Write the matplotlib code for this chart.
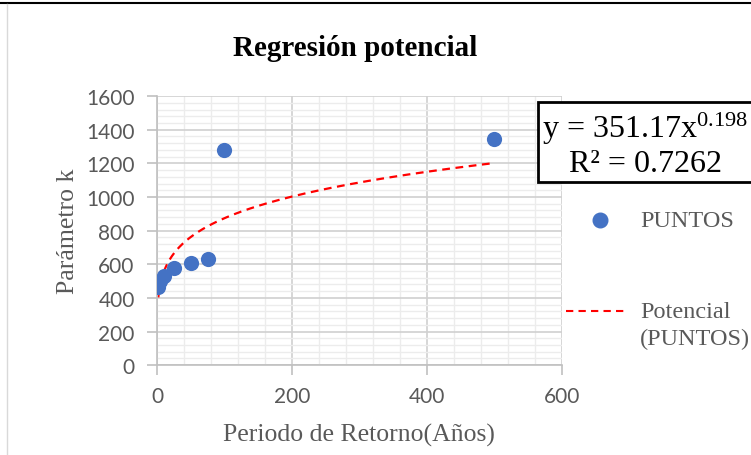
import matplotlib
matplotlib.use("Agg")
import matplotlib.pyplot as plt
import numpy as np
from matplotlib.lines import Line2D
from matplotlib.patches import Rectangle

# Return period (years) and fitted parameter k
periodo = [2, 5, 10, 25, 50, 75, 100, 500]
param_k = [465, 500, 530, 575, 605, 632, 1280, 1345]

# Power-law trendline coefficients
coef_a = 351.17
coef_b = 0.198
r2 = 0.7262

x_ticks = [0, 200, 400, 600]
y_ticks = [0, 200, 400, 600, 800, 1000, 1200, 1400, 1600]

serif = "Liberation Serif"
sans = "Lato"
gray_txt = "#595959"

plt.rcParams["mathtext.fontset"] = "custom"
plt.rcParams["mathtext.rm"] = serif
plt.rcParams["mathtext.it"] = serif + ":italic"

fig = plt.figure(figsize=(7.51, 4.56), dpi=100)
ax = fig.add_axes([0.209, 0.197, 0.539, 0.590])

# grid: minor every 40, major every 200
ax.set_xlim(0, 600)
ax.set_ylim(0, 1600)
ax.set_xticks(x_ticks)
ax.set_yticks(y_ticks)
ax.set_xticks(np.arange(0, 601, 40), minor=True)
ax.set_yticks(np.arange(0, 1601, 40), minor=True)
ax.grid(which="major", color="#d0d0d0", lw=1.2, zorder=0)
ax.grid(which="minor", color="#ececec", lw=1.0, zorder=0)
ax.set_axisbelow(True)

for s in ["top", "right"]:
    ax.spines[s].set_visible(False)
for s in ["left", "bottom"]:
    ax.spines[s].set_color("#c0c0c0")
    ax.spines[s].set_linewidth(1.2)

ax.tick_params(which="major", length=7, width=1.2, color="#c0c0c0",
               labelsize=15, labelcolor=gray_txt)
ax.tick_params(axis="y", pad=9)
ax.tick_params(axis="x", pad=8)
ax.tick_params(which="minor", length=0)
for lab in ax.get_xticklabels() + ax.get_yticklabels():
    lab.set_fontfamily(sans)

# data points
ax.scatter(periodo, param_k, s=120, color="#4472C4", zorder=3, linewidths=0)

# trendline from the regression equation
xt = np.linspace(min(periodo), max(periodo), 400)
yt = coef_a * xt ** coef_b
ax.plot(xt, yt, color="#FF0000", lw=1.6, ls=(0, (3.5, 2.5)), zorder=2)

ax.set_xlabel("Periodo de Retorno(Años)", fontfamily=serif, fontsize=18.5,
              color=gray_txt, labelpad=12)
ax.set_ylabel("Parámetro k", fontfamily=serif, fontsize=18.5,
              color=gray_txt, labelpad=5)

fig.text(0.473, 0.893, "Regresión potencial", fontfamily=serif,
         fontsize=21, fontweight="bold", ha="center", va="center")

# equation box
fig.patches.append(Rectangle((0.716, 0.598), 0.29, 0.176, transform=fig.transFigure,
                             fill=True, facecolor="white", edgecolor="black", lw=2.0,
                             zorder=5))
fig.text(0.722, 0.718, r"y = 351.17x$^{0.198}$", fontfamily=serif, fontsize=23,
         ha="left", va="center", zorder=6)
fig.text(0.758, 0.640, "R² = %.4f" % r2, fontfamily=serif, fontsize=23,
         ha="left", va="center", zorder=6)

# legend
fig.add_artist(Line2D([0.799], [0.515], marker="o", markersize=10.5,
                      color="#4472C4", transform=fig.transFigure, lw=0))
fig.text(0.852, 0.515, "PUNTOS", fontfamily=serif, fontsize=17.5,
         color=gray_txt, va="center", ha="left")
fig.add_artist(Line2D([0.754, 0.836], [0.315, 0.315], color="#FF0000", lw=1.5,
                      ls=(0, (3.5, 2.5)), transform=fig.transFigure))
fig.text(0.852, 0.315, "Potencial", fontfamily=serif, fontsize=17.5,
         color=gray_txt, va="center", ha="left")
fig.text(0.852, 0.255, "(PUNTOS)", fontfamily=serif, fontsize=17.5,
         color=gray_txt, va="center", ha="left")

# outer chart frame edges
fig.add_artist(Line2D([0, 1], [0.992, 0.992], color="black", lw=1.5,
                      transform=fig.transFigure))
fig.add_artist(Line2D([0.009, 0.009], [0, 0.99], color="#d9d9d9", lw=1.0,
                      transform=fig.transFigure))

fig.savefig("out.png", dpi=100)
